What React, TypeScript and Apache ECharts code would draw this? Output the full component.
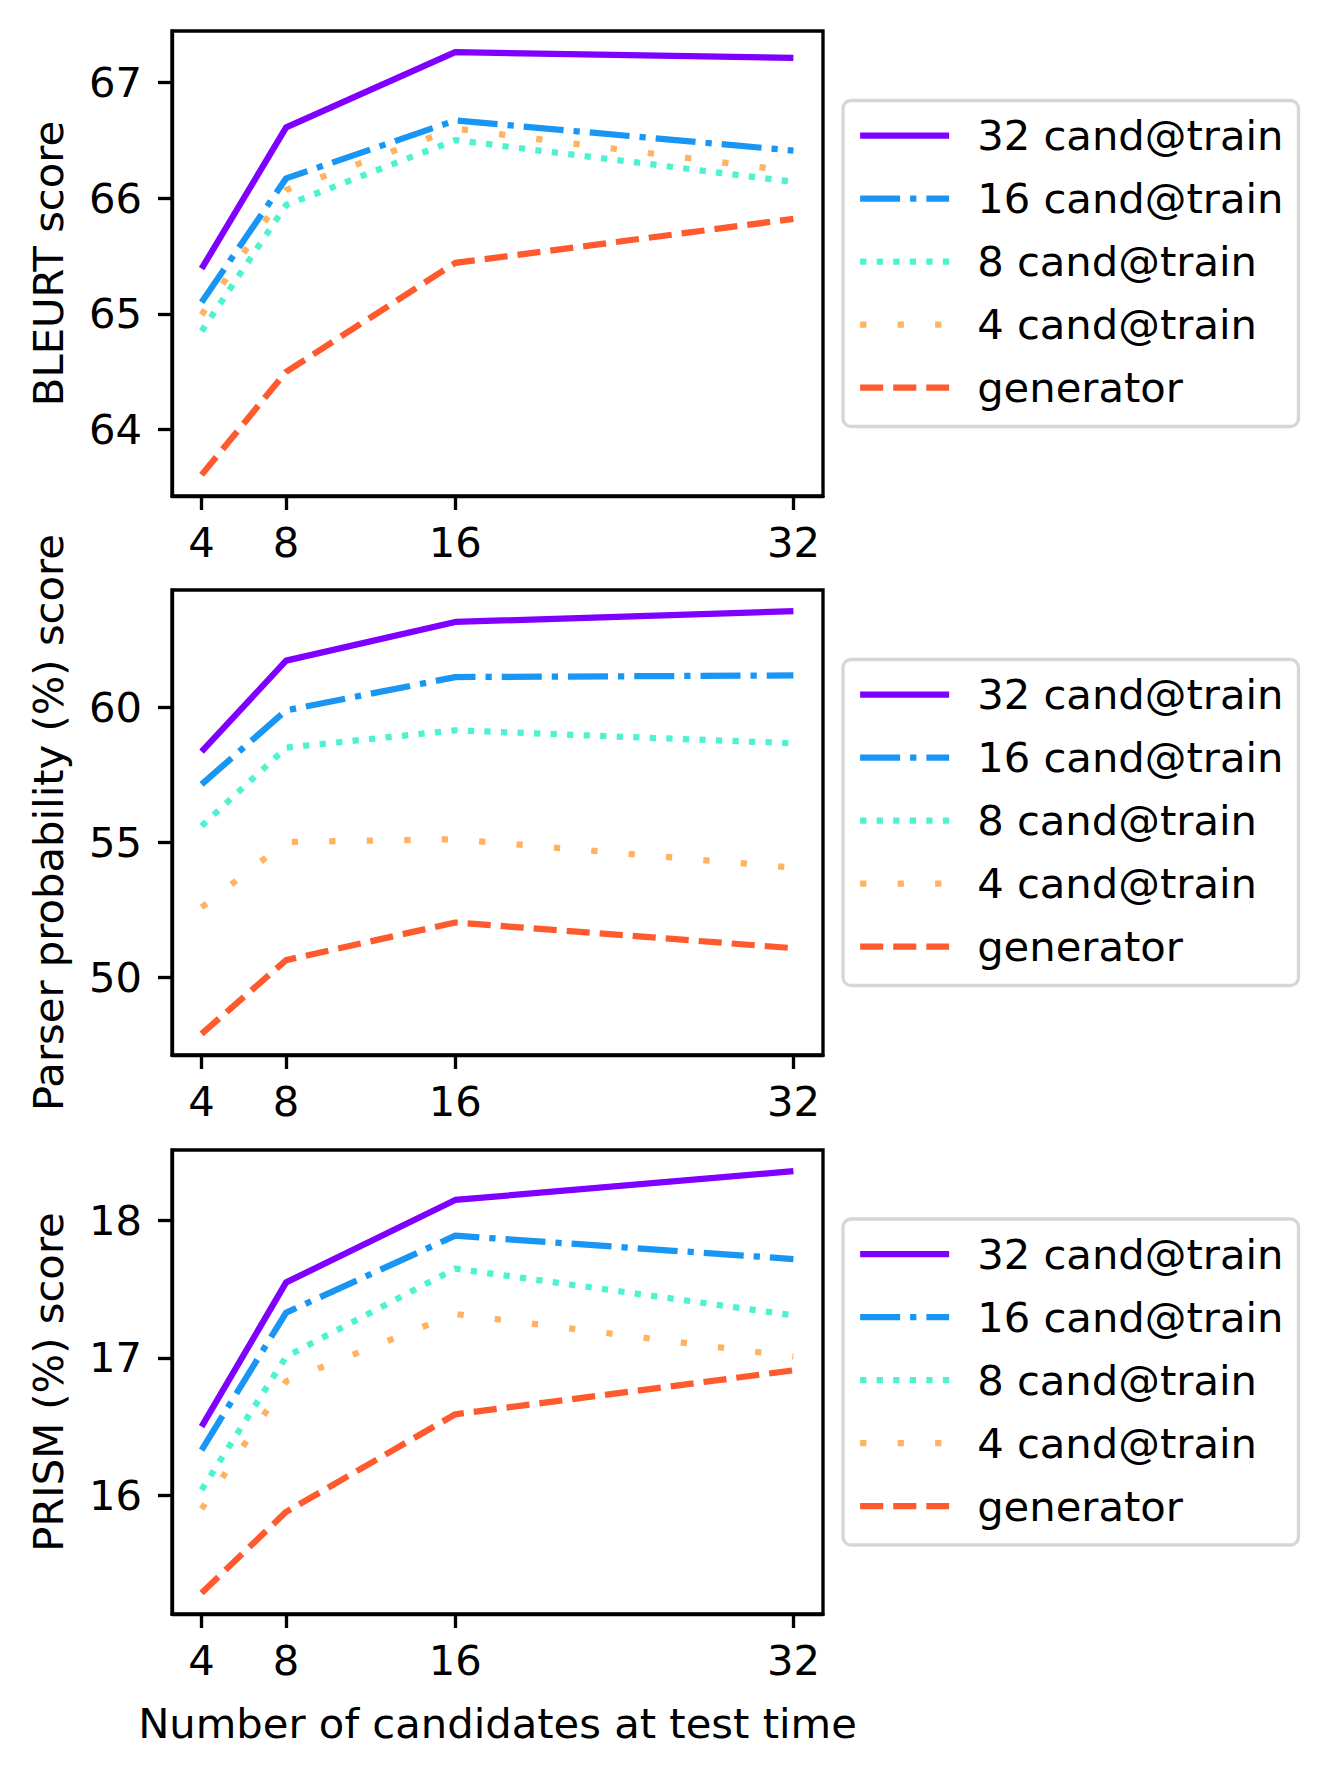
import React, { useEffect, useRef } from "react";
import * as echarts from "echarts";

// ---- data ----
const X_VALUES = [4, 8, 16, 32];
const X_TICKS = [4, 8, 16, 32];
const SERIES_NAMES = ["32 cand@train", "16 cand@train", "8 cand@train", "4 cand@train", "generator"];

const BLEURT_32 = [65.39, 66.61, 67.26, 67.21];
const BLEURT_16 = [65.1, 66.17, 66.67, 66.41];
const BLEURT_8 = [64.85, 65.94, 66.5, 66.14];
const BLEURT_4 = [64.99, 66.07, 66.6, 66.23];
const BLEURT_GEN = [63.61, 64.5, 65.44, 65.82];
const BLEURT_TICKS = [64, 65, 66, 67];

const PARSER_32 = [58.35, 61.72, 63.15, 63.55];
const PARSER_16 = [57.14, 59.88, 61.11, 61.17];
const PARSER_8 = [55.6, 58.5, 59.14, 58.66];
const PARSER_4 = [52.59, 55.01, 55.11, 54.06];
const PARSER_GEN = [47.91, 50.64, 52.03, 51.08];
const PARSER_TICKS = [50, 55, 60];

const PRISM_32 = [16.5, 17.55, 18.15, 18.36];
const PRISM_16 = [16.33, 17.33, 17.89, 17.72];
const PRISM_8 = [16.04, 17.01, 17.65, 17.31];
const PRISM_4 = [15.9, 16.83, 17.32, 17.01];
const PRISM_GEN = [15.29, 15.88, 16.59, 16.91];
const PRISM_TICKS = [16, 17, 18];

const Y_TITLES = ["BLEURT score", "Parser probability (%) score", "PRISM (%) score"];
const X_TITLE = "Number of candidates at test time";

// ---- styles ----
const COLORS = ["#8000ff", "#1996f3", "#4df3ce", "#ffb360", "#ff5a2e"];
const LW = 6.25;
const DASHES: any[] = ["solid", [40, 10, 6.25, 10], [6.25, 10.3], [6.25, 31.25], [23.1, 10]];
const FONT = "DejaVu Sans";
const FS = 41.7;
const SPINE = 3.33;

const GRIDS = [
  { top: 31, height: 465 },
  { top: 590, height: 465 },
  { top: 1150, height: 464 },
];
const GRID_LEFT = 172;
const GRID_WIDTH = 651;

function margins(vals: number[], frac = 0.05) {
  const mn = Math.min(...vals);
  const mx = Math.max(...vals);
  const r = mx - mn;
  return { min: mn - r * frac, max: mx + r * frac };
}

export default function App() {
  const ref = useRef<HTMLDivElement>(null);

  useEffect(() => {
    document.body.style.margin = "0";
    if (!ref.current) return;
    const chart = echarts.init(ref.current, undefined, { renderer: "svg" });

    const panels = [
      { data: [BLEURT_32, BLEURT_16, BLEURT_8, BLEURT_4, BLEURT_GEN], ticks: BLEURT_TICKS },
      { data: [PARSER_32, PARSER_16, PARSER_8, PARSER_4, PARSER_GEN], ticks: PARSER_TICKS },
      { data: [PRISM_32, PRISM_16, PRISM_8, PRISM_4, PRISM_GEN], ticks: PRISM_TICKS },
    ];

    const xr = margins(X_VALUES);

    const grid = GRIDS.map((g) => ({
      left: GRID_LEFT,
      width: GRID_WIDTH,
      top: g.top,
      height: g.height,
      show: true,
      borderColor: "#000",
      borderWidth: SPINE,
      backgroundColor: "transparent",
      containLabel: false,
    }));

    const xAxis = panels.map((_, i) => ({
      type: "value",
      gridIndex: i,
      min: xr.min,
      max: xr.max,
      splitLine: { show: false },
      axisLine: { show: true, onZero: false, lineStyle: { color: "#000", width: SPINE } },
      axisTick: { show: true, inside: false, length: 14, customValues: X_TICKS, lineStyle: { color: "#000", width: SPINE } },
      axisLabel: { show: true, customValues: X_TICKS, margin: 25, color: "#000", fontSize: FS, fontFamily: FONT },
      name: i === 2 ? X_TITLE : "",
      nameLocation: "middle",
      nameGap: 88,
      nameTextStyle: { color: "#000", fontSize: FS, fontFamily: FONT },
    }));

    const yAxis = panels.map((p, i) => {
      const r = margins(p.data.flat());
      return {
        type: "value",
        gridIndex: i,
        min: r.min,
        max: r.max,
        splitLine: { show: false },
        axisLine: { show: true, onZero: false, lineStyle: { color: "#000", width: SPINE } },
        axisTick: { show: true, inside: false, length: 14, customValues: p.ticks, lineStyle: { color: "#000", width: SPINE } },
        axisLabel: { show: true, customValues: p.ticks, margin: 30, color: "#000", fontSize: FS, fontFamily: FONT },
        name: Y_TITLES[i],
        nameLocation: "middle",
        nameGap: 103,
        nameTextStyle: { color: "#000", fontSize: FS, fontFamily: FONT },
      };
    });

    const series: any[] = [];
    panels.forEach((p, i) => {
      p.data.forEach((vals, k) => {
        series.push({
          type: "line",
          name: SERIES_NAMES[k],
          xAxisIndex: i,
          yAxisIndex: i,
          data: X_VALUES.map((x, j) => [x, vals[j]]),
          symbol: "none",
          showSymbol: false,
          color: COLORS[k],
          lineStyle: { color: COLORS[k], width: LW, type: DASHES[k], join: "round", cap: "butt" },
          z: 2 + k,
        });
      });
    });

    const legend = GRIDS.map((g) => ({
      data: SERIES_NAMES,
      orient: "vertical",
      left: 843,
      top: g.top + g.height / 2 - 163,
      itemWidth: 89,
      itemHeight: 2,
      itemGap: 21,
      padding: [14, 15, 18, 14],
      backgroundColor: "#fff",
      borderColor: "#d6d6d6",
      borderWidth: 3.3,
      borderRadius: 8,
      selectedMode: false,
      itemStyle: { opacity: 0 },
      lineStyle: { width: LW },
      textStyle: { color: "#000", fontSize: FS, fontFamily: FONT, lineHeight: 42, padding: [0, 0, 0, 23] },
    }));

    chart.setOption({
      animation: false,
      backgroundColor: "#fff",
      grid,
      xAxis,
      yAxis,
      legend,
      series,
    });

    return () => chart.dispose();
  }, []);

  return (
    <div
      ref={ref}
      style={{ position: "absolute", left: 0, top: 0, width: 1328, height: 1775, background: "#fff" }}
    />
  );
}
